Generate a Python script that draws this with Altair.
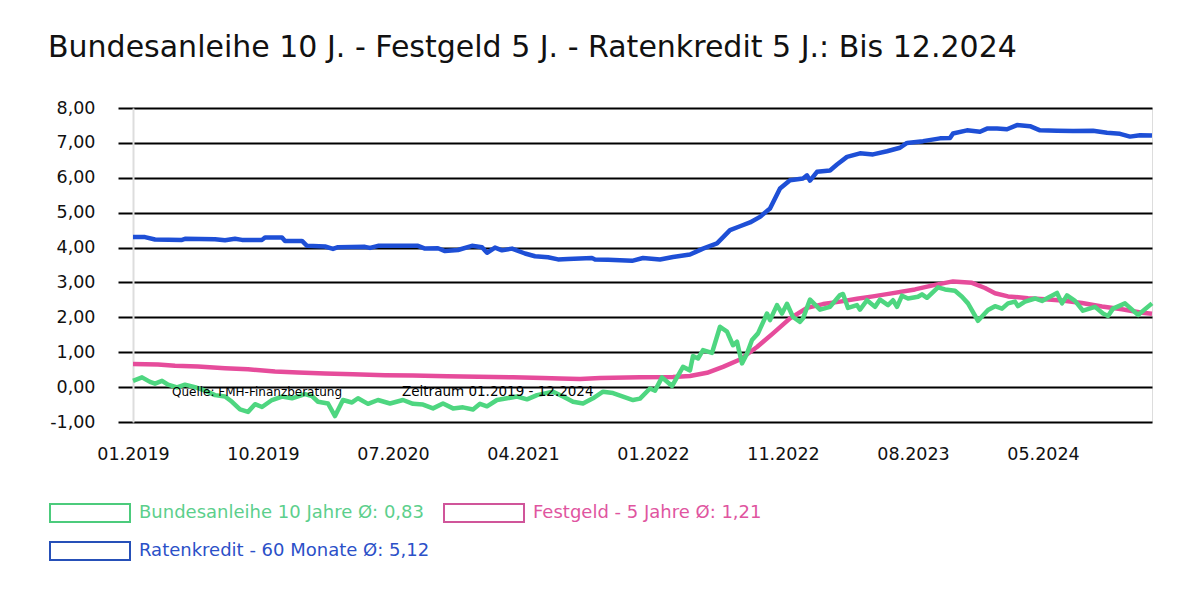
import altair as alt
import pandas as pd

TITLE = "Bundesanleihe 10 J. - Festgeld 5 J. - Ratenkredit 5 J.: Bis 12.2024"
X_TICK_POS = [0, 13, 26, 39, 52, 65, 78, 91]
X_TICK_LABELS = ["01.2019", "10.2019", "07.2020", "04.2021", "01.2022", "11.2022", "08.2023", "05.2024"]
Y_TICKS = [-1, 0, 1, 2, 3, 4, 5, 6, 7, 8]
LEGEND_LABELS = ["Bundesanleihe 10 Jahre Ø: 0,83", "Festgeld - 5 Jahre Ø: 1,21", "Ratenkredit - 60 Monate Ø: 5,12"]
SOURCE_TEXT = ["Quelle: FMH-Finanzberatung", "Zeitraum 01.2019 - 12.2024"]

# (period index, rate %)
RATENKREDIT = [(0,4.30),(1.2,4.30),(2.2,4.23),(4.9,4.22),(5.2,4.25),(8.2,4.24),(9.2,4.21),(10.2,4.25),(10.9,4.22),(12.9,4.22),
    (13.2,4.29),(14.9,4.29),(15.2,4.19),(16.9,4.19),(17.4,4.05),(19.2,4.03),(20.0,3.96),(20.5,4.01),(23.2,4.02),(23.7,3.99),
    (24.5,4.05),(28.5,4.05),(29.2,3.97),(30.5,3.98),(31.2,3.90),(32.5,3.93),(33.9,4.05),(34.9,4.01),(35.4,3.85),(36.2,4.00),
    (36.9,3.92),(37.9,3.97),(39.2,3.83),(40.2,3.75),(41.5,3.72),(42.5,3.66),(43.5,3.67),(45.9,3.70),(46.2,3.66),(47.5,3.65),
    (49.9,3.62),(51.0,3.70),(52.7,3.66),(54.0,3.73),(55.7,3.80),(57.0,3.97),(58.4,4.12),(59.7,4.50),(60.7,4.61),(61.7,4.72),
    (62.7,4.88),(63.7,5.12),(64.7,5.69),(65.7,5.93),(67.0,5.98),(67.4,6.07),(67.7,5.92),(68.4,6.17),(69.7,6.21),(70.4,6.38),
    (71.4,6.60),(72.7,6.70),(74.0,6.67),(75.4,6.76),(76.7,6.86),(77.4,7.00),(79.0,7.05),(80.7,7.13),(81.7,7.14),(82.0,7.27),
    (83.4,7.36),(84.7,7.32),(85.4,7.41),(86.4,7.41),(87.4,7.39),(88.4,7.51),(89.7,7.48),(90.7,7.36),(92.4,7.35),(94.0,7.34),
    (96.0,7.35),(97.4,7.29),(98.7,7.26),(99.7,7.18),(100.7,7.22),(101.9,7.21)]

FESTGELD = [(0,0.66),(2.5,0.65),(4.2,0.61),(6.5,0.59),(9.2,0.54),(11.5,0.51),(14.2,0.45),(16.5,0.42),(19.2,0.39),(22,0.37),
    (25.2,0.34),(28,0.33),(31.4,0.31),(34.5,0.30),(38.0,0.28),(41,0.26),(42.7,0.25),(44.7,0.23),(46.7,0.26),(50.7,0.28),
    (54.0,0.29),(55.7,0.32),(57.4,0.41),(59.0,0.58),(60.7,0.79),(62.4,1.15),(64.0,1.54),(65.7,1.97),(67.4,2.27),(69.0,2.38),
    (70.7,2.45),(72.4,2.53),(74.0,2.60),(75.7,2.68),(78.2,2.80),(80.2,2.93),(82.0,3.03),(83.9,2.99),(85.2,2.84),(86.2,2.69),
    (87.5,2.60),(89.5,2.55),(91.2,2.52),(92.9,2.48),(94.9,2.41),(96.9,2.31),(98.9,2.23),(100.9,2.13),(101.9,2.10)]

BUNDESANLEIHE = [(0,0.18),(0.9,0.28),(1.7,0.15),(2.2,0.10),(2.9,0.18),(3.5,0.07),(4.4,-0.01),(5.2,0.07),(6.2,0.0),(7.2,-0.10),
    (8.2,-0.23),(9.2,-0.27),(9.9,-0.42),(10.7,-0.64),(11.5,-0.71),(12.2,-0.49),(12.9,-0.57),(13.9,-0.37),(14.9,-0.27),(15.9,-0.32),
    (17.2,-0.20),(17.9,-0.26),(18.5,-0.42),(19.5,-0.47),(20.2,-0.83),(21.0,-0.37),(21.9,-0.44),(22.5,-0.32),(23.5,-0.48),(24.5,-0.37),
    (25.7,-0.47),(27.0,-0.37),(28.0,-0.48),(29.0,-0.50),(30.0,-0.61),(31.0,-0.47),(32.0,-0.61),(33.0,-0.58),(34.0,-0.64),(34.7,-0.48),
    (35.4,-0.55),(36.4,-0.37),(37.4,-0.32),(38.4,-0.27),(39.4,-0.35),(40.4,-0.23),(42.0,-0.13),(43.0,-0.27),(44.0,-0.42),(45.0,-0.47),
    (46.0,-0.32),(47.0,-0.13),(48.0,-0.17),(49.0,-0.27),(50.0,-0.37),(50.7,-0.33),(51.7,-0.04),(52.2,-0.10),(52.9,0.28),(53.9,0.03),
    (55.0,0.58),(55.7,0.48),(56.0,0.89),(56.5,0.82),(57.0,1.06),(57.9,0.98),(58.7,1.73),(59.4,1.59),(60.0,1.20),(60.4,1.30),
    (60.9,0.68),(61.4,0.96),(61.9,1.35),(62.5,1.54),(63.4,2.11),(63.7,1.92),(64.4,2.35),(64.9,2.11),(65.4,2.39),(66.0,2.01),
    (66.7,1.87),(67.0,1.97),(67.7,2.51),(68.7,2.22),(69.7,2.30),(70.7,2.64),(71.0,2.67),(71.5,2.27),(72.4,2.35),(72.7,2.22),
    (73.4,2.49),(74.2,2.30),(74.7,2.51),(75.5,2.35),(76.0,2.49),(76.4,2.30),(76.9,2.62),(77.5,2.54),(78.5,2.59),(78.9,2.66),
    (79.4,2.56),(80.5,2.86),(81.2,2.80),(82.2,2.76),(82.9,2.59),(83.5,2.40),(84.5,1.90),(85.5,2.21),(86.2,2.32),(86.9,2.25),
    (87.5,2.40),(88.2,2.45),(88.5,2.32),(89.2,2.45),(90.2,2.54),(90.9,2.47),(91.5,2.56),(92.4,2.70),(92.9,2.40),(93.4,2.63),
    (94.2,2.47),(95.0,2.19),(96.2,2.30),(97.0,2.11),(97.5,2.04),(98.0,2.25),(99.2,2.40),(100.5,2.07),(101.9,2.40)]

GREEN, PINK, BLUE = "#4ed680", "#e64c9b", "#1e4fd6"
FONT = "DejaVu Sans"

def frame(pairs):
    return pd.DataFrame(pairs, columns=["t", "v"])

x_enc = alt.X("t:Q", scale=alt.Scale(domain=[0, 101.9], nice=False, zero=False),
              axis=alt.Axis(values=X_TICK_POS, labelExpr="[" + ",".join("'%s'" % l for l in X_TICK_LABELS) + "][round(datum.value/13)]",
                            ticks=False, tickSize=0, domain=False, grid=False, labelPadding=23, labelFontSize=17.5,
                            labelFlush=False, labelOverlap=False, labelColor="#111111", labelFont=FONT, title=None))
y_enc = alt.Y("v:Q", scale=alt.Scale(domain=[-1, 8], nice=False, zero=False),
              axis=alt.Axis(values=Y_TICKS, labelExpr="(datum.value < 0 ? '-' : '') + replace(format(abs(datum.value), '.2f'), '.', ',')",
                            tickSize=15, tickColor="black", tickWidth=2, grid=True, gridColor="black", gridWidth=2,
                            domainColor="#dddddd", domainWidth=2, labelPadding=23, labelFontSize=17.5, labelColor="#111111",
                            labelFont=FONT, title=None))

def line(pairs, color):
    return alt.Chart(frame(pairs)).mark_line(color=color, strokeWidth=4.5, strokeJoin="round").encode(x=x_enc, y=y_enc)

one = pd.DataFrame({"a": [0]})

def text(label, x, y, color, size):
    return alt.Chart(one).mark_text(text=label, align="left", baseline="middle", font=FONT, fontSize=size, color=color).encode(
        x=alt.value(x), y=alt.value(y))

def box(x, y, color):
    return alt.Chart(one).mark_rect(fill="white", stroke=color, strokeWidth=2).encode(
        x=alt.value(x), x2=alt.value(x + 80), y=alt.value(y), y2=alt.value(y + 18))

layers = [
    line(RATENKREDIT, BLUE),
    line(FESTGELD, PINK),
    line(BUNDESANLEIHE, GREEN),
    text(SOURCE_TEXT[0], 39, 284, "black", 12),
    text(SOURCE_TEXT[1], 269, 284, "black", 13.5),
    box(-83, 396, "#4ccb7c"), text(LEGEND_LABELS[0], 6, 405, "#5ccf8c", 18),
    box(311, 396, "#d0559a"), text(LEGEND_LABELS[1], 400, 405, "#e0559f", 18),
    box(-83, 434, "#2650b8"), text(LEGEND_LABELS[2], 6, 443, "#2b50c8", 18),
]

chart = alt.layer(*layers).properties(
    width=1019, height=314,
    title=alt.TitleParams(TITLE, anchor="start", frame="group", dx=-85, offset=36, fontSize=30,
                          fontWeight="normal", font=FONT, color="#111111"),
    autosize=alt.AutoSizeParams(type="none"),
    padding={"left": 125, "top": 100, "right": 40, "bottom": 170},
).configure_view(stroke=None).configure(background="white")

chart.save("out.html", embed_options={"renderer": "svg", "actions": False})
